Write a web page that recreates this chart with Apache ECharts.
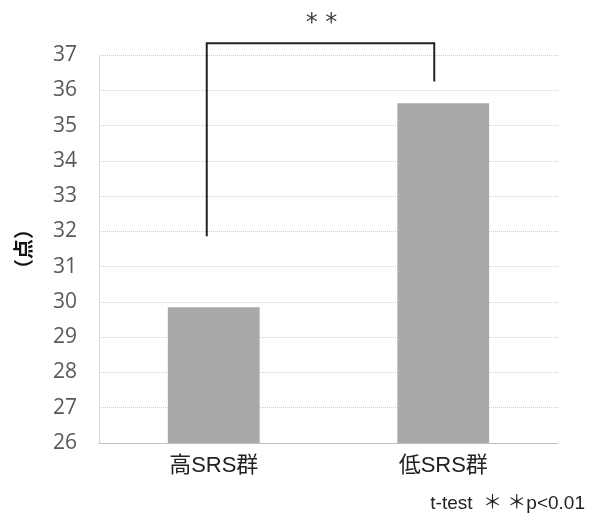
<!DOCTYPE html>
<html><head><meta charset="utf-8">
<script src="https://cdn.jsdelivr.net/npm/echarts@6/dist/echarts.min.js"></script>
<style>html,body{margin:0;padding:0;background:#fff}#c{width:595px;height:518px}</style>
</head><body><div id="c"></div>
<script>
const categories = ['高SRS群', '低SRS群'];
const values = [29.85, 35.63];
const yTicks = [26, 27, 28, 29, 30, 31, 32, 33, 34, 35, 36, 37];
const bracketLeftBottom = 31.86;
const bracketRightBottom = 36.25;
const bracketTop = 37.33;
const sigLabel = '* *';
const note = 't-test  ＊ ＊p<0.01';

const chart = echarts.init(document.getElementById('c'));
chart.setOption({
  animation: false,
  grid: { left: 99, right: 37, top: 55, bottom: 75, containLabel: false },
  xAxis: {
    type: 'category', data: categories,
    axisTick: { show: false },
    axisLine: { lineStyle: { color: '#bfbfbf', width: 1 } },
    axisLabel: { color: '#222', fontSize: 22, margin: 12, fontFamily: 'Liberation Sans, Noto Sans CJK JP' }
  },
  yAxis: {
    type: 'value', min: yTicks[0], max: yTicks[yTicks.length - 1], interval: 1,
    name: '（点）', nameLocation: 'middle', nameGap: 66, nameRotate: 90,
    nameTextStyle: { color: '#111', fontSize: 20, fontWeight: 'bold', fontFamily: 'Noto Sans CJK JP' },
    axisLine: { show: true, lineStyle: { color: '#d9d9d9' } },
    axisTick: { show: false },
    axisLabel: { color: '#595959', fontSize: 21, margin: 22, fontFamily: 'Open Sans' },
    splitLine: { lineStyle: { color: '#cfcfcf', type: 'dotted', width: 1 } }
  },
  series: [
    {
      type: 'bar', data: values, barWidth: '40%',
      itemStyle: { color: '#a9a9a9' }
    },
    {
      type: 'custom',
      data: [[0, bracketLeftBottom, 1, bracketRightBottom, bracketTop]],
      renderItem: function (params, api) {
        const off = -7;
        const p1 = api.coord([api.value(0), api.value(1)]);
        const pt = api.coord([api.value(0), api.value(4)]);
        const p2 = api.coord([api.value(2), api.value(4)]);
        const p3 = api.coord([api.value(2), api.value(3)]);
        return {
          type: 'group',
          children: [
            { type: 'polyline', shape: { points: [[p1[0]+off, p1[1]], [pt[0]+off, pt[1]], [p2[0]+off-2, p2[1]], [p3[0]+off-2, p3[1]]] },
              style: { stroke: '#222', lineWidth: 2, fill: null } },
            { type: 'text', style: { text: sigLabel, x: (p1[0] + p3[0]) / 2 + off, y: pt[1] - 8, align: 'center', verticalAlign: 'bottom', fill: '#444', fontSize: 24, fontFamily: 'DejaVu Sans' } }
          ]
        };
      },
      z: 10
    }
  ],
  graphic: [
    { type: 'text', right: 10, top: 494, style: { text: note, fill: '#222', fontSize: 19, fontFamily: 'Liberation Sans, Noto Sans CJK JP' } }
  ]
});
</script></body></html>
